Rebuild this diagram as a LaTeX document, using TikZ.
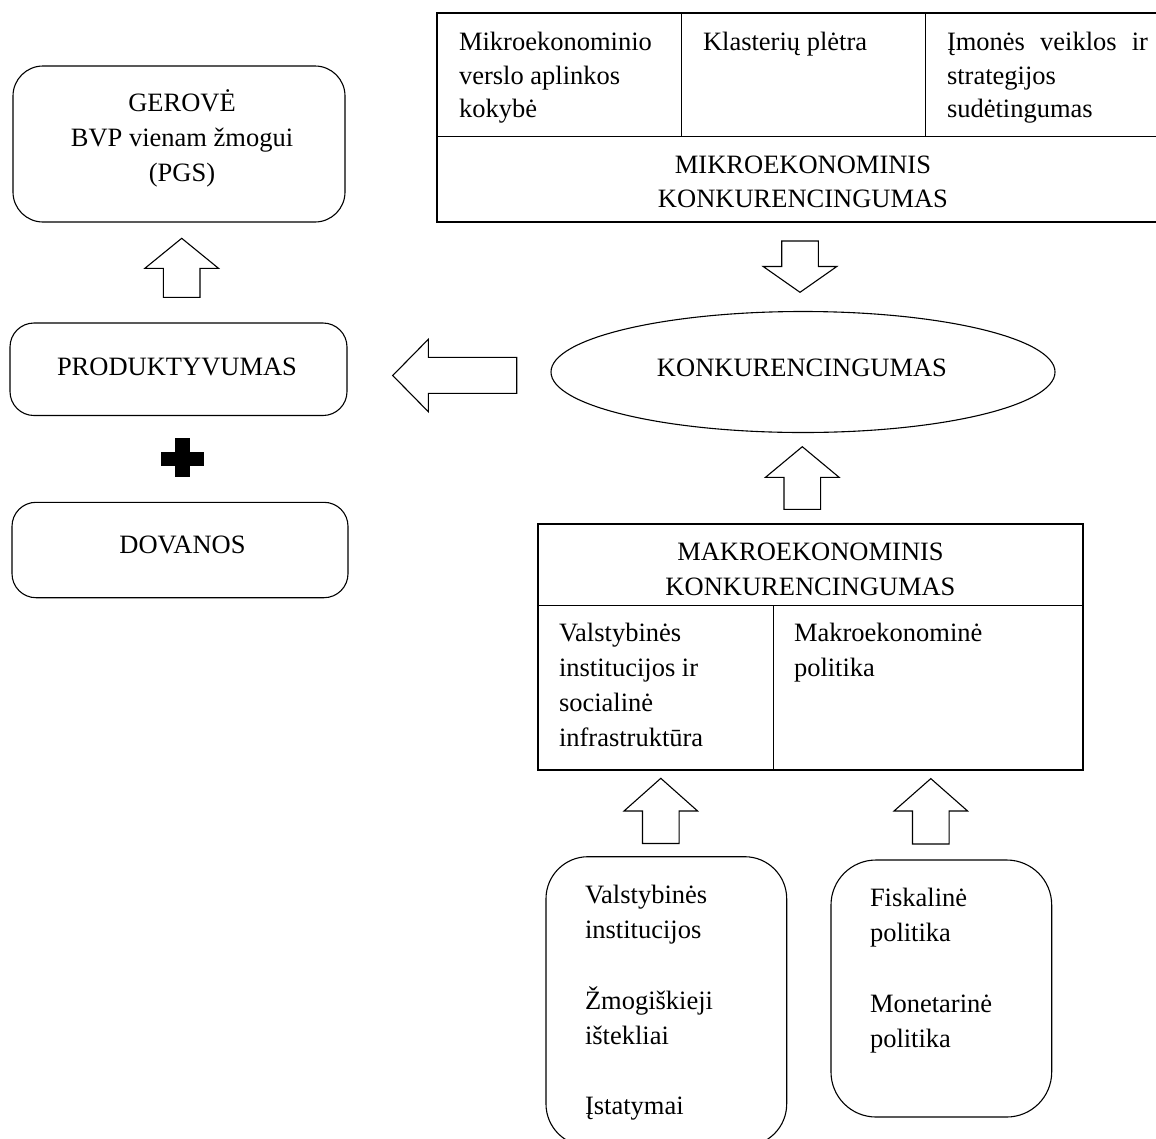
\documentclass[tikz,border=0pt]{standalone}
\usepackage{fontspec}
\setmainfont{Liberation Serif}
\usetikzlibrary{shapes.geometric}
\newcommand\BlockUp[4]{% centre x, tip y, shoulder y, tail y
  \draw[barrow] (#1,#2) -- ({#1+36.8},#3) -- ({#1+18.3},#3) -- ({#1+18.3},#4)
    -- ({#1-18.3},#4) -- ({#1-18.3},#3) -- ({#1-36.8},#3) -- cycle;}
\begin{document}
\begin{tikzpicture}[x=1pt,y=-1pt,line width=1.1pt,
  rbox/.style={draw,rounded corners=#1,anchor=north west,inner sep=0pt,outer sep=0pt},
  sbox/.style={draw,anchor=north west,inner sep=0pt,outer sep=0pt},
  txt/.style={font=\fontsize{26.5}{35}\selectfont,inner sep=0pt,outer sep=0pt},
  txtt/.style={font=\fontsize{26.5}{33.5}\selectfont,inner sep=0pt,outer sep=0pt},
  barrow/.style={draw,fill=white,line join=miter}]
\useasboundingbox (0,0) rectangle (1156,1138);

% (multi-line nodes: the base anchor is the baseline of the LAST line)

% ---------- left column ----------
\node[rbox=30pt,minimum width=332pt,minimum height=156pt] (gerove) at (13,66) {};
\node[txt,anchor=base,align=center] (geroveT) at (182,181) {GEROVĖ\\BVP vienam žmogui\\(PGS)};

\node[rbox=24pt,minimum width=337pt,minimum height=92.5pt] (produkt) at (10,323) {};
\node[txt,anchor=base] (produktT) at (177,375) {PRODUKTYVUMAS};

\node[rbox=24pt,minimum width=336pt,minimum height=95.4pt] (dovanos) at (12,502.3) {};
\node[txt,anchor=base] (dovanosT) at (182.5,553.3) {DOVANOS};

% plus sign
\fill (160.7,451.7) rectangle (204,466);
\fill (175,438) rectangle (190,477);

% up arrow PRODUKTYVUMAS -> GEROVE
\BlockUp{181.7}{238.3}{268.3}{297.3}

% ---------- top table ----------
\node[sbox,minimum width=732pt,minimum height=209pt] (mikro) at (437,13) {};
\draw (437,136.7) -- (1169,136.7);
\draw (681.4,13) -- (681.4,136.7);
\draw (925.4,13) -- (925.4,136.7);
\node[txtt,anchor=base west,align=left] (mk1) at (459,117.7) {Mikroekonominio\\verslo aplinkos\\kokybė};
\node[txtt,anchor=base west,align=left] (mk2) at (703,50.7) {Klasterių plėtra};
\node[txtt,anchor=base west,align=left] (mk3) at (947,117.7) {\makebox[201pt][s]{Įmonės veiklos ir}\\strategijos\\sudėtingumas};
\node[txtt,anchor=base,align=center] (mkT) at (803,207.3) {MIKROEKONOMINIS\\KONKURENCINGUMAS};

% down arrow
\BlockUp{800}{292.3}{266.5}{241}

% ---------- ellipse ----------
\node[draw,ellipse,minimum width=504pt,minimum height=121pt,inner sep=0pt] (konk) at (803,372) {};
\node[txt,anchor=base] (konkT) at (802,376.7) {KONKURENCINGUMAS};

% left arrow
\draw[barrow] (392.7,375.5) -- (428.3,339.3) -- (428.3,357.3) -- (516.7,357.3)
  -- (516.7,393.3) -- (428.3,393.3) -- (428.3,411.7) -- cycle;

% up arrow MAKRO -> ellipse
\BlockUp{802.3}{446.7}{477.3}{509.3}

% ---------- macro table ----------
\node[sbox,minimum width=545pt,minimum height=246pt] (makro) at (538,524) {};
\draw (538,605.5) -- (1083,605.5);
\draw (773.3,605.5) -- (773.3,770);
\node[txt,anchor=base,align=center] (makroT) at (810.5,595) {MAKROEKONOMINIS\\KONKURENCINGUMAS};
\node[txt,anchor=base west,align=left] (ma1) at (559,746.7) {Valstybinės\\institucijos ir\\socialinė\\infrastruktūra};
\node[txt,anchor=base west,align=left] (ma2) at (794,676.7) {Makroekonominė\\politika};

% up arrows from bottom boxes
\BlockUp{660.8}{778.3}{811}{843.5}
\BlockUp{930.8}{778.6}{811}{844}

% ---------- bottom boxes ----------
\node[rbox=42pt,minimum width=240.7pt,minimum height=289.3pt] (inst) at (546,856.7) {};
\node[txt,anchor=base west,align=left] (instT) at (585,1114.5) {Valstybinės\\institucijos\\[35.5pt]Žmogiškieji\\ištekliai\\[35.5pt]Įstatymai};

\node[rbox=45pt,minimum width=220.7pt,minimum height=257pt] (polit) at (831,860) {};
\node[txt,anchor=base west,align=left] (politT) at (870,1047) {Fiskalinė\\politika\\[35.5pt]Monetarinė\\politika};
\end{tikzpicture}
\end{document}
